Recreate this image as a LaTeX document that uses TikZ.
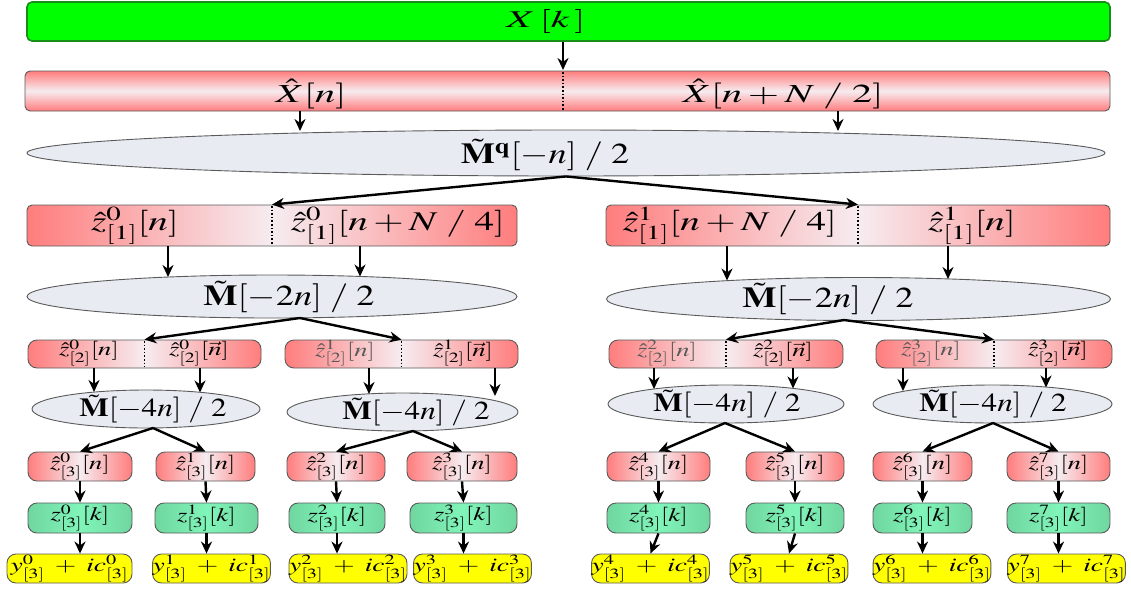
\documentclass[tikz,border=0pt]{standalone}
\usepackage{mathptmx}
\usepackage{graphicx}
\usetikzlibrary{arrows.meta,shapes.geometric}
\definecolor{ellfill}{RGB}{232,236,242}
\definecolor{gtop}{RGB}{0,255,0}
\definecolor{gtopb}{RGB}{25,140,25}
\definecolor{redE}{RGB}{255,125,125}
\definecolor{redM}{RGB}{246,236,240}
\definecolor{grE}{RGB}{112,214,160}
\definecolor{grM}{RGB}{128,245,185}
\definecolor{yel}{RGB}{255,255,0}
\definecolor{bord}{RGB}{90,90,90}
\newcommand\hs[2]{\scalebox{#1}[1]{#2}}
\newcommand\fsK{\fontsize{24}{28}\selectfont}
\newcommand\fsX{\fontsize{26}{30}\selectfont}
\newcommand\fsMM{\fontsize{29}{33}\selectfont}
\newcommand\fsL{\fontsize{27}{31}\selectfont}
\newcommand\fsE{\fontsize{26}{30}\selectfont}
\newcommand\fsS{\fontsize{19}{22}\selectfont}
\tikzset{
  box/.style={rectangle, rounded corners=5pt, draw=bord, line width=0.9pt, inner sep=0pt},
  redh/.style={box, left color=redE, right color=redE, middle color=redM},
  redv/.style={box, top color=redE, bottom color=redE, middle color=redM},
  sred/.style={redh, rounded corners=9pt},
  sgreen/.style={box, rounded corners=9pt, left color=grE, right color=grE, middle color=grM},
  syel/.style={box, rounded corners=9pt, fill=yel},
  elli/.style={ellipse, draw=bord, fill=ellfill, line width=0.9pt, inner sep=0pt},
  lbl/.style={inner sep=0pt},
  arr/.style={-{Stealth[length=12pt,width=11pt]}, line width=2.4pt},
  divl/.style={dotted, line width=1.6pt}
}
\begin{document}
\begin{tikzpicture}[x=1pt,y=-1pt]
\useasboundingbox (0,0) rectangle (1131,592);
% row 0
\node[box, fill=gtop, draw=gtopb, line width=1.6pt, minimum width=1083pt, minimum height=39pt] (G) at (568.5,21.5) {};
\node[lbl] (tG) at (546,21) {\fsK\hs{1.7}{$X\,[k\,]$}};
% row 1
\node[redv, minimum width=1085pt, minimum height=40pt] (XH) at (567.5,91) {};
\draw[divl] (563,72) -- (563,110);
\node[lbl] (tXa) at (311,94) {\fsX\hs{1.55}{$\hat{X}[n]$}};
\node[lbl] (tXb) at (783,94) {\fsX\hs{1.55}{$\hat{X}[n+N\;/\;2]$}};
% row 2
\node[elli, minimum width=1078pt, minimum height=46pt] (E1) at (566,153) {};
\node[lbl] (tE1) at (545,155) {\fsMM\hs{1.25}{$\tilde{\mathbf{M}}^{\mathbf{q}}[-n]\;/\;2$}};
% row 3
\node[redh, minimum width=490pt, minimum height=41pt] (L1) at (272,225.5) {};
\node[redh, minimum width=504pt, minimum height=41pt] (R1) at (858,225.5) {};
\draw[divl] (272,206) -- (272,245);
\draw[divl] (858,206) -- (858,245);
\node[lbl] (tL1a) at (135,226) {\fsL\hs{1.45}{$\hat{z}^{0}_{[1]}[n]$}};
\node[lbl] (tL1b) at (398,226) {\fsL\hs{1.45}{$\hat{z}^{0}_{[1]}[n+N\;/\;4]$}};
\node[lbl] (tR1a) at (730,226) {\fsL\hs{1.45}{$\hat{z}^{1}_{[1]}[n+N\;/\;4]$}};
\node[lbl] (tR1b) at (972,226) {\fsL\hs{1.45}{$\hat{z}^{1}_{[1]}[n]$}};
% row 4
\node[elli, minimum width=490pt, minimum height=43pt] (EL) at (272,296.5) {};
\node[elli, minimum width=504pt, minimum height=43pt] (ER) at (858.5,299) {};
\node[lbl] (tEL) at (289,297) {\fsMM\hs{1.25}{$\tilde{\mathbf{M}}[-2n]\;/\;2$}};
\node[lbl] (tER) at (828,299) {\fsMM\hs{1.25}{$\tilde{\mathbf{M}}[-2n]\;/\;2$}};
% row 5
\foreach \nm/\cx/\w in {A/144.5/233, B/401.5/233, C/726/234, D/994/236}{
  \node[sred, minimum width=\w pt, minimum height=28pt] (\nm) at (\cx,354) {};
  \draw[divl] (\cx,341) -- (\cx,367);
}
\node[lbl] (tAa) at (89,353) {\fsS\hs{1.4}{$\hat{z}^{0}_{[2]}[n]$}};
\node[lbl] (tAb) at (199,353) {\fsS\hs{1.4}{$\hat{z}^{0}_{[2]}[\vec{n}]$}};
\node[lbl, text=gray!70!black] (tBa) at (345,353) {\fsS\hs{1.4}{$\hat{z}^{1}_{[2]}[n]$}};
\node[lbl] (tBb) at (463,353) {\fsS\hs{1.4}{$\hat{z}^{1}_{[2]}[\vec{n}]$}};
\node[lbl, text=gray!70!black] (tCa) at (667,353) {\fsS\hs{1.4}{$\hat{z}^{2}_{[2]}[n]$}};
\node[lbl] (tCb) at (783,353) {\fsS\hs{1.4}{$\hat{z}^{2}_{[2]}[\vec{n}]$}};
\node[lbl, text=gray!70!black] (tDa) at (931,353) {\fsS\hs{1.4}{$\hat{z}^{3}_{[2]}[n]$}};
\node[lbl] (tDb) at (1058,353) {\fsS\hs{1.4}{$\hat{z}^{3}_{[2]}[\vec{n}]$}};
% row 6
\node[elli, minimum width=228pt, minimum height=38pt] (EA) at (146,409) {};
\node[elli, minimum width=231pt, minimum height=38pt] (EB) at (402.5,412) {};
\node[elli, minimum width=236pt, minimum height=38pt] (EC) at (726,404) {};
\node[elli, minimum width=239pt, minimum height=38pt] (ED) at (992.5,404) {};
\node[lbl] (tEA) at (153,409) {\fsE\hs{1.2}{$\tilde{\mathbf{M}}[-4n]\;/\;2$}};
\node[lbl] (tEB) at (416,412) {\fsE\hs{1.2}{$\tilde{\mathbf{M}}[-4n]\;/\;2$}};
\node[lbl] (tEC) at (727,404) {\fsE\hs{1.2}{$\tilde{\mathbf{M}}[-4n]\;/\;2$}};
\node[lbl] (tED) at (993,404) {\fsE\hs{1.2}{$\tilde{\mathbf{M}}[-4n]\;/\;2$}};
% rows 7-9
\foreach \i/\rc/\rw/\gc/\gw/\yc/\yw in {0/80/104/80/104/69.5/125, 1/205.5/99/206.5/103/211.5/113, 2/336/98/337/96/348/118, 3/462/110/463.5/107/472.5/109, 4/658.5/103/658.5/103/650.5/117, 5/795/98/795/98/789/110, 6/922.5/99/922.5/99/932/116, 7/1058.5/103/1058.5/103/1066.5/117}{
  \node[sred, minimum width=\rw pt, minimum height=29pt] (r\i) at (\rc,466.5) {\fsS\hs{1.4}{$\hat{z}^{\i}_{[3]}[n]$}};
  \node[sgreen, minimum width=\gw pt, minimum height=30pt] (g\i) at (\gc,518) {\fsS\hs{1.4}{$z^{\i}_{[3]}[k]$}};
  \node[syel, minimum width=\yw pt, minimum height=29pt] (y\i) at (\yc,568.5) {\fsS\hs{1.45}{$y^{\i}_{[3]}\;+\;ic^{\i}_{[3]}$}};
  \draw[arr] (r\i.south) -- (g\i.north);
}
\foreach \i in {0,1,2,3,6,7}{\draw[arr] (g\i.south) -- (g\i.south |- y\i.north);}
\draw[arr] (g4.south) -- (y4.north);
\draw[arr] (g5.south) -- (y5.north);
% connectors
\coordinate (a0) at (563,70);
\draw[arr] (G.south -| a0) -- (a0);
\coordinate (a1) at (300,131);
\coordinate (a2) at (838,131);
\draw[arr] (XH.south -| a1) -- (a1);
\draw[arr] (XH.south -| a2) -- (a2);
\draw[arr] (E1.south) -- (L1.north);
\draw[arr] (E1.south) -- (R1.north);
\coordinate (b1) at (168,277);
\coordinate (b2) at (360,276.5);
\coordinate (b3) at (727,280.5);
\coordinate (b4) at (948,279);
\foreach \c in {b1,b2}{\draw[arr] (L1.south -| \c) -- (\c);}
\foreach \c in {b3,b4}{\draw[arr] (R1.south -| \c) -- (\c);}
\coordinate (oL) at (300,318);
\coordinate (oR) at (844,320);
\draw[arr] (oL) -- (A.north);
\draw[arr] (oL) -- (B.north);
\draw[arr] (oR) -- (C.north);
\draw[arr] (oR) -- (D.north);
\coordinate (c1) at (94,392);
\coordinate (c2) at (200,392.5);
\coordinate (c3) at (369,394);
\coordinate (c4) at (495,396);
\coordinate (c5) at (654,389);
\coordinate (c6) at (793,388.5);
\coordinate (c7) at (903,391);
\coordinate (c8) at (1046,387.5);
\foreach \c in {c1,c2}{\draw[arr] (A.south -| \c) -- (\c);}
\foreach \c in {c3,c4}{\draw[arr] (B.south -| \c) -- (\c);}
\foreach \c in {c5,c6}{\draw[arr] (C.south -| \c) -- (\c);}
\foreach \c in {c7,c8}{\draw[arr] (D.south -| \c) -- (\c);}
\coordinate (dA) at (153,428);
\coordinate (dB) at (413,431);
\coordinate (dC) at (725,423);
\coordinate (dD) at (993,423);
\draw[arr] (dA) -- (r0.north);
\draw[arr] (dA) -- (r1.north);
\draw[arr] (dB) -- (r2.north);
\draw[arr] (dB) -- (r3.north);
\draw[arr] (dC) -- (r4.north);
\draw[arr] (dC) -- (r5.north);
\draw[arr] (dD) -- (r6.north);
\draw[arr] (dD) -- (r7.north);
\end{tikzpicture}
\end{document}
